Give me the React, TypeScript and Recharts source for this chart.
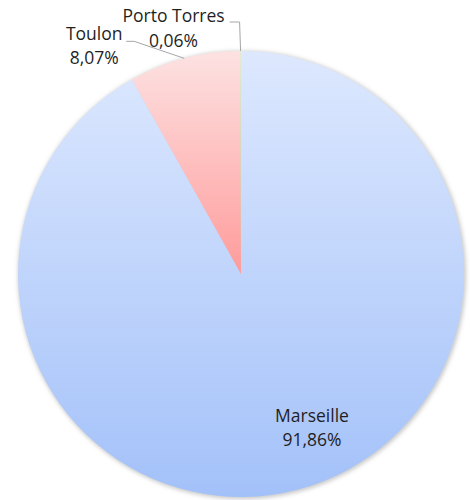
import { PieChart, Pie, Cell } from "recharts";

const regions = ["Marseille", "Toulon", "Porto Torres"];
const shares = [91.86, 8.07, 0.06];

const gradients = [
    { id: "gradMarseille", top: "#dde8fe", bottom: "#a3c1f9" },
    { id: "gradToulon", top: "#fde2e2", bottom: "#ff9b9b" },
    { id: "gradPorto", top: "#e4eed3", bottom: "#b5cf8c" },
];

const data = regions.map((name, i) => ({ name, value: shares[i] }));

const RADIAN = Math.PI / 180;
const FONT = "'Open Sans', Lato, sans-serif";

const fmt = (v: number) => v.toFixed(2).replace(".", ",") + "%";

function renderLabel(props: any) {
    const { cx, cy, midAngle, outerRadius, index, name, value } = props;
    const ex = cx + outerRadius * Math.cos(-midAngle * RADIAN);
    const ey = cy + outerRadius * Math.sin(-midAngle * RADIAN);
    const textStyle = { fontFamily: FONT, fontSize: 17.5, fill: "#1f1f1f" };

    if (index === 0) {
        // inside label, lower right
        return (
            <text x={cx + 71} y={cy + 148} textAnchor="middle" style={textStyle}>
                <tspan x={cx + 71}>{name}</tspan>
                <tspan x={cx + 71} dy={24}>{fmt(value)}</tspan>
            </text>
        );
    }
    if (index === 1) {
        const elbow = { x: ex - 50, y: ey - 17 };
        return (
            <g>
                <polyline
                    points={`${ex},${ey} ${elbow.x},${elbow.y} ${elbow.x - 8},${elbow.y}`}
                    fill="none"
                    stroke="#a6a6a6"
                    strokeWidth={1}
                />
                <text x={ex - 90} y={ey - 18} textAnchor="middle" style={textStyle}>
                    <tspan x={ex - 90}>{name}</tspan>
                    <tspan x={ex - 90} dy={24}>{fmt(value)}</tspan>
                </text>
            </g>
        );
    }
    const top = ey - 29;
    return (
        <g>
            <polyline
                points={`${ex},${ey} ${ex - 1},${top} ${ex - 11},${top}`}
                fill="none"
                stroke="#a6a6a6"
                strokeWidth={1}
            />
            <text x={ex - 67} y={top} textAnchor="middle" style={textStyle}>
                <tspan x={ex - 67}>{name}</tspan>
                <tspan x={ex - 67} dy={25}>{fmt(value)}</tspan>
            </text>
        </g>
    );
}

export default function App() {
    return (
        <div style={{ position: "absolute", left: 0, top: 0, background: "#fff" }}>
            <PieChart width={470} height={500} margin={{ top: 0, right: 0, bottom: 0, left: 0 }}>
                <defs>
                    {gradients.map((g) => (
                        <linearGradient key={g.id} id={g.id} x1="0" y1="0" x2="0" y2="1">
                            <stop offset="0%" stopColor={g.top} />
                            <stop offset="100%" stopColor={g.bottom} />
                        </linearGradient>
                    ))}
                    <filter id="pieShadow" x="-10%" y="-10%" width="120%" height="120%">
                        <feGaussianBlur stdDeviation="2" />
                    </filter>
                </defs>
                {/* soft shadow under the pie */}
                <Pie
                    data={data}
                    dataKey="value"
                    cx={242}
                    cy={275}
                    outerRadius={224}
                    startAngle={90}
                    endAngle={-270}
                    stroke="none"
                    fill="#9a9a9a"
                    fillOpacity={0.55}
                    style={{ filter: "url(#pieShadow)" }}
                    isAnimationActive={false}
                    label={false}
                    labelLine={false}
                />
                <Pie
                    data={data}
                    dataKey="value"
                    nameKey="name"
                    cx={241}
                    cy={274}
                    outerRadius={223}
                    startAngle={90}
                    endAngle={-270}
                    stroke="none"
                    isAnimationActive={false}
                    label={renderLabel}
                    labelLine={false}
                >
                    {data.map((d, i) => (
                        <Cell key={d.name} fill={`url(#${gradients[i].id})`} />
                    ))}
                </Pie>
            </PieChart>
        </div>
    );
}
